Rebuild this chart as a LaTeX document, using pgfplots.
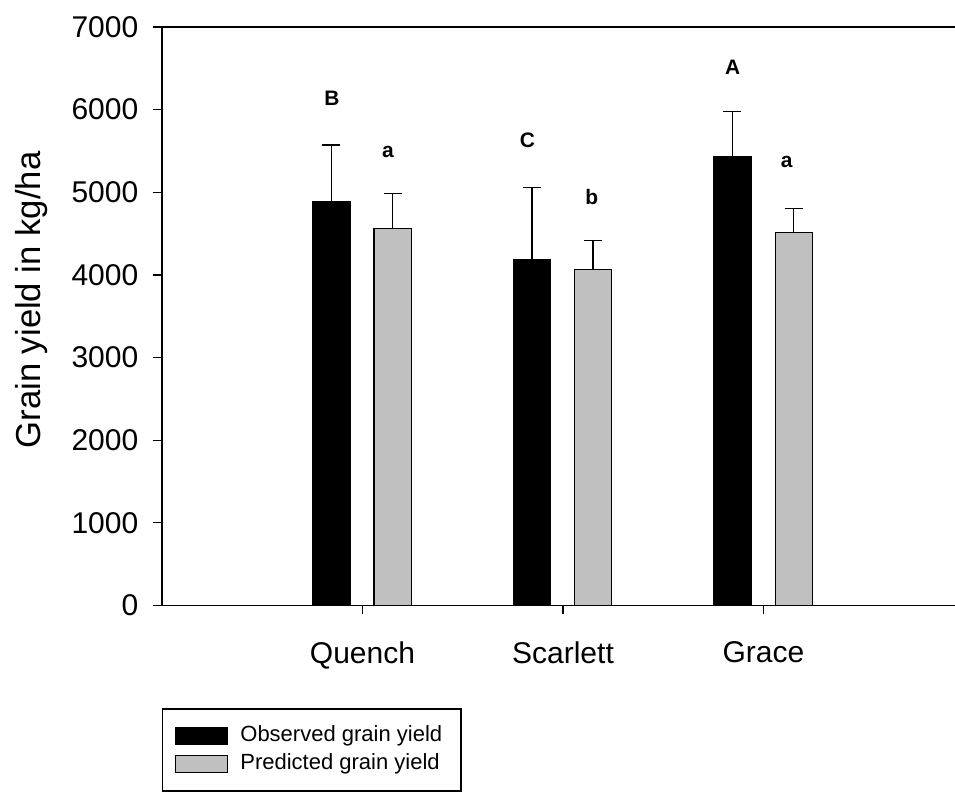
\documentclass[border=0pt]{standalone}
\usepackage{pgfplots}
\pgfplotsset{compat=1.18}
\usepackage{pgfplotstable}
\usepackage{fontspec}
\setmainfont{Liberation Sans}
\definecolor{bargray}{RGB}{192,192,192}
\pgfplotsset{swatch/.style={legend image code/.code={\draw[##1] (0pt,-6.25pt) rectangle (39pt,6.25pt);}}}
\pgfplotstableread{
x y e
0.845 4886 686
1.845 4181 875
2.845 5431 544
}\observed
\pgfplotstableread{
x y e
1.15 4564 424
2.15 4060 354
3.15 4511 290
}\predicted
\begin{document}
\begin{tikzpicture}
\begin{axis}[
  scale only axis, width=601.5pt, height=433.9pt,
  xmin=0, xmax=4, ymin=0, ymax=7000,
  axis y line*=left, axis x line*=bottom,
  axis line style={line width=1.3pt, black},
  xtick={1,2,3}, xticklabels={Quench,Scarlett,Grace},
  ytick={0,1000,...,7000},
  tick align=outside, major tick length=6.75pt,
  tick style={line width=1pt, black},
  /pgf/number format/assume math mode=true,
  /pgf/number format/1000 sep={},
  tick label style={font=\fontsize{22.5}{27}\selectfont},
  yticklabel style={xshift=-7.5pt},
  xticklabel style={yshift=-17pt},
  ylabel={Grain yield in kg/ha},
  ylabel style={font=\fontsize{26}{30}\selectfont, at={(axis description cs:-0.163,0.528)}, anchor=center},
  legend style={at={(axis description cs:0,-0.178)}, anchor=north west, draw=black, line width=1pt,
    font=\fontsize{16.5}{19}\selectfont, inner xsep=9pt, inner ysep=11.5pt, row sep=3.5pt, column sep=4.5pt,
    nodes={inner xsep=5pt, inner ysep=1pt, text height=12pt, text depth=3.5pt}},
  legend cell align=left,
]
\addplot[ybar, bar width=0.185, bar shift=0, fill=black, draw=black, line width=0.8pt, swatch,
  error bars/.cd, y dir=plus, y explicit, error mark=|, error mark options={mark size=6.75pt, line width=0.9pt, black, draw=black}, error bar style={line width=0.9pt, black}]
  table[x=x, y=y, y error=e] {\observed};
\addlegendentry{Observed grain yield}
\addplot[ybar, bar width=0.185, bar shift=0, fill=bargray, draw=black, line width=0.8pt, swatch,
  error bars/.cd, y dir=plus, y explicit, error mark=|, error mark options={mark size=6.75pt, line width=0.9pt, black, draw=black}, error bar style={line width=0.9pt, black}]
  table[x=x, y=y, y error=e] {\predicted};
\addlegendentry{Predicted grain yield}
\draw[line width=1.3pt, black] (rel axis cs:0,1) -- (rel axis cs:1,1);
\begin{scope}[every node/.style={font=\bfseries\fontsize{15.7}{18}\selectfont}]
\node at (axis cs:0.848,6141) {B};
\node at (axis cs:1.127,5491) {a};
\node at (axis cs:1.823,5633) {C};
\node at (axis cs:2.143,4947) {b};
\node at (axis cs:2.846,6513) {A};
\node at (axis cs:3.116,5370) {a};
\end{scope}
\end{axis}
\pgfresetboundingbox
\path[use as bounding box] (-121.5pt,-139.9pt) rectangle (594.75pt,454.1pt);
\end{tikzpicture}
\end{document}
